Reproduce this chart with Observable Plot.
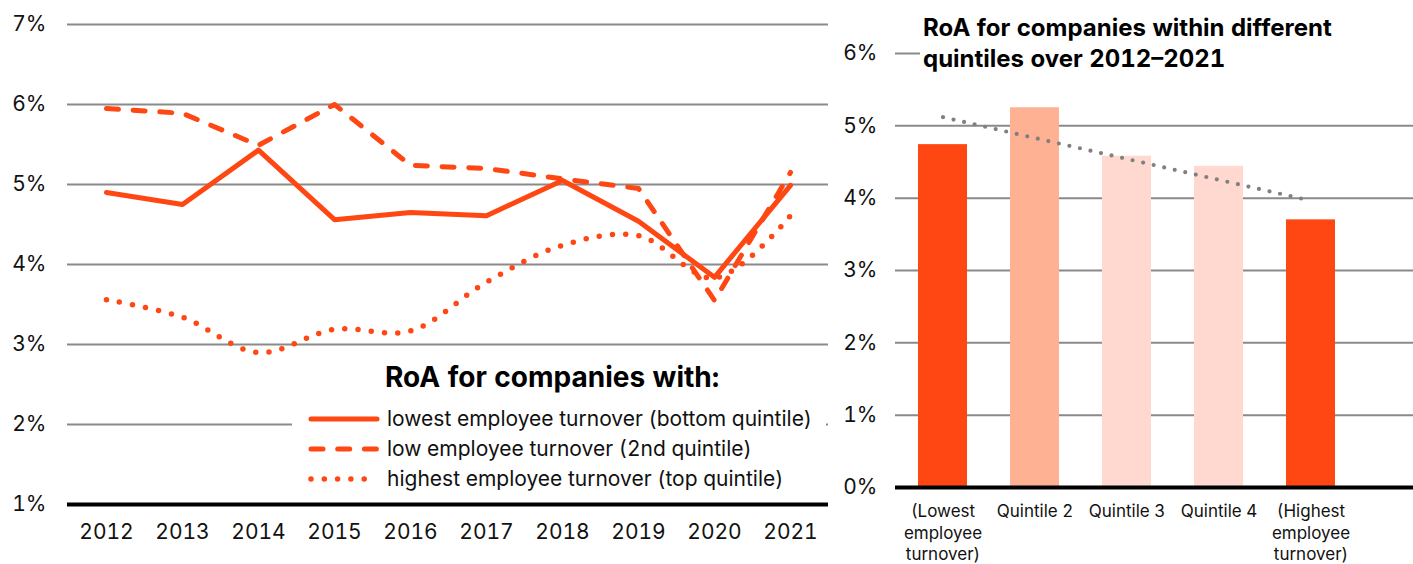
<!DOCTYPE html>
<html>
<head>
<meta charset="utf-8">
<script src="https://cdn.jsdelivr.net/npm/d3@7"></script>
<script src="https://cdn.jsdelivr.net/npm/@observablehq/plot@0.6"></script>
<style>
  html, body { margin: 0; padding: 0; background: #fff; }
  #wrap { position: relative; width: 1413px; height: 564px; overflow: hidden; background: #fff; font-family: Inter, "Noto Sans", sans-serif; }
  #left { position: absolute; left: 0; top: 0; }
  #right { position: absolute; left: 830px; top: 0; }
  #overlay { position: absolute; left: 0; top: 0; }
  svg text { font-variant-numeric: tabular-nums; }
</style>
</head>
<body>
<div id="wrap">
  <div id="left"></div>
  <div id="right"></div>
  <svg id="overlay" width="1413" height="564"></svg>
</div>
<script>
// ---------- data ----------
const years = ["2012", "2013", "2014", "2015", "2016", "2017", "2018", "2019", "2020", "2021"];
const lowestTurnover  = [4.90, 4.75, 5.43, 4.56, 4.65, 4.61, 5.05, 4.54, 3.84, 4.99];
const lowTurnover     = [5.95, 5.89, 5.49, 6.00, 5.24, 5.20, 5.07, 4.95, 3.55, 5.15];
const highestTurnover = [3.56, 3.34, 2.90, 3.19, 3.17, 3.78, 4.24, 4.36, 3.83, 4.61];
const seriesNames = [
  "lowest employee turnover (bottom quintile)",
  "low employee turnover (2nd quintile)",
  "highest employee turnover (top quintile)"
];
const legendTitle = "RoA for companies with:";
const leftTicks = [1, 2, 3, 4, 5, 6, 7];

const quintiles = ["Quintile 1", "Quintile 2", "Quintile 3", "Quintile 4", "Quintile 5"];
const quintileLabels = ["(Lowest\nemployee\nturnover)", "Quintile 2", "Quintile 3", "Quintile 4", "(Highest\nemployee\nturnover)"];
const quintileRoA = [4.74, 5.25, 4.58, 4.44, 3.70];
const rightTicks = [0, 1, 2, 3, 4, 5, 6];
const rightTitle = ["RoA for companies within different", "quintiles over 2012\u20132021"];

// ---------- styles ----------
const ORANGE = "#ff4713";
const GRID = "#8a8a8a";
const FONT = "Inter, 'Noto Sans', sans-serif";
const solidStyle  = {stroke: ORANGE, strokeWidth: 5, strokeLinecap: "round", strokeLinejoin: "round"};
const dashedStyle = {stroke: ORANGE, strokeWidth: 5, strokeDasharray: "12,14.7", strokeLinecap: "round", strokeLinejoin: "round"};
const dottedStyle = {stroke: ORANGE, strokeWidth: 5.5, strokeDasharray: "0,13.3", strokeLinecap: "round", strokeLinejoin: "round"};

// ---------- left chart ----------
const left = Plot.plot({
  width: 832, height: 564,
  marginLeft: 67, marginRight: 4, marginTop: 24, marginBottom: 60,
  style: {fontFamily: FONT, fontSize: "20px", color: "#111", background: "transparent", overflow: "visible"},
  x: {type: "point", domain: years, padding: 0.5, label: null},
  y: {domain: [1, 7], label: null},
  marks: [
    Plot.ruleY(leftTicks.filter(v => v > 1), {stroke: GRID, strokeWidth: 2}),
    Plot.line(years, {x: d => d, y: (d, i) => highestTurnover[i], curve: "catmull-rom", ...dottedStyle}),
    Plot.line(years, {x: d => d, y: (d, i) => lowTurnover[i], ...dashedStyle}),
    Plot.line(years, {x: d => d, y: (d, i) => lowestTurnover[i], ...solidStyle}),
    Plot.ruleY([1], {stroke: "#000", strokeWidth: 4}),
    Plot.axisY({ticks: leftTicks, tickSize: 0, tickPadding: 21, tickFormat: d => d + "%", fontSize: 21}),
    Plot.axisX({tickSize: 0, tickPadding: 20, fontSize: 21})
  ]
});
document.getElementById("left").appendChild(left);

// ---------- right chart ----------
// linear trend fitted to the bar values
const idx = quintileRoA.map((_, i) => i);
const mx = d3.mean(idx), my = d3.mean(quintileRoA);
const slope = d3.sum(idx, i => (i - mx) * (quintileRoA[i] - my)) / d3.sum(idx, i => (i - mx) ** 2);
const trend = quintiles.map((q, i) => ({q, v: my + slope * (i - mx)}));

const right = Plot.plot({
  width: 583, height: 564,
  marginLeft: 65, marginRight: 0, marginTop: 53, marginBottom: 77,
  style: {fontFamily: FONT, fontSize: "20px", color: "#111", background: "transparent", overflow: "visible"},
  x: {type: "band", domain: quintiles, paddingInner: 0.47, paddingOuter: 0.235, insetRight: 55.7, label: null},
  y: {domain: [0, 6], label: null},
  color: {domain: quintiles, range: [ORANGE, "#ffb194", "#ffd9cf", "#ffd9cf", ORANGE]},
  marks: [
    Plot.ruleY(rightTicks.filter(v => v > 0), {stroke: GRID, strokeWidth: 2}),
    Plot.barY(quintiles, {x: d => d, y: (d, i) => quintileRoA[i], fill: d => d}),
    Plot.ruleY([0], {stroke: "#000", strokeWidth: 4}),
    Plot.line(trend, {x: "q", y: "v", stroke: "#808080", strokeWidth: 4.2, strokeDasharray: "0,10.8", strokeLinecap: "round"}),
    Plot.axisY({ticks: rightTicks, tickSize: 0, tickPadding: 18, tickFormat: d => d + "%", fontSize: 21}),
    Plot.axisX({tickSize: 0, tickPadding: 14, tickFormat: (d, i) => quintileLabels[i], fontSize: 17, lineHeight: 1.28})
  ]
});
document.getElementById("right").appendChild(right);

// ---------- overlay: legend and right title ----------
const ov = d3.select("#overlay");
// legend box
ov.append("rect").attr("x", 292).attr("y", 356).attr("width", 534).attr("height", 140).attr("fill", "#fff");
ov.append("text").attr("x", 385).attr("y", 387)
  .attr("font-family", FONT).attr("font-weight", 700).attr("font-size", 28).attr("fill", "#000")
  .text(legendTitle);
const legendStyles = [solidStyle, dashedStyle, dottedStyle];
seriesNames.forEach((name, i) => {
  const yy = 419 + i * 30;
  const s = legendStyles[i];
  ov.append("line").attr("x1", 311).attr("x2", 377).attr("y1", yy).attr("y2", yy)
    .attr("stroke", s.stroke).attr("stroke-width", s.strokeWidth)
    .attr("stroke-linecap", "round").attr("stroke-dasharray", s.strokeDasharray || null);
  ov.append("text").attr("x", 387).attr("y", yy + 7)
    .attr("font-family", FONT).attr("font-size", 21).attr("fill", "#111")
    .text(name);
});
// right title
ov.append("rect").attr("x", 920).attr("y", 5).attr("width", 493).attr("height", 72).attr("fill", "#fff");
rightTitle.forEach((line, i) => {
  ov.append("text").attr("x", 923).attr("y", 36 + i * 31)
    .attr("font-family", FONT).attr("font-weight", 700).attr("font-size", 24).attr("fill", "#000")
    .text(line);
});
</script>
</body>
</html>
